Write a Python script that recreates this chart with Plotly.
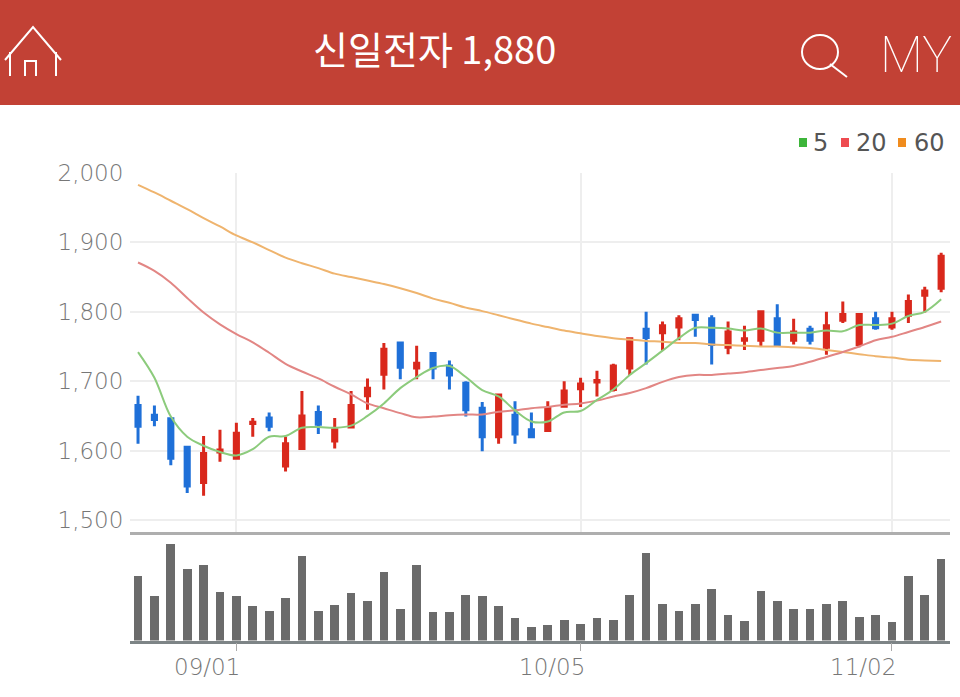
import plotly.graph_objects as go

idx = list(range(50))
opens = [1665,1651,1646,1605,1554,1598,1589,1639,1647,1578,1603,1655,1614,1634,1679,1710,1755,1719,1740,1722,1697,1661,1620,1651,1630,1629,1664,1689,1699,1688,1719,1775,1770,1778,1795,1790,1749,1759,1759,1790,1759,1775,1749,1788,1753,1790,1778,1795,1824,1834]
highs = [1679,1665,1648,1605,1621,1630,1640,1647,1655,1620,1686,1665,1647,1686,1704,1755,1755,1751,1740,1730,1700,1670,1680,1671,1655,1671,1700,1705,1715,1725,1761,1800,1786,1795,1795,1795,1786,1780,1800,1811,1790,1780,1800,1815,1796,1800,1800,1825,1836,1885]
lows = [1610,1635,1579,1539,1535,1584,1589,1620,1628,1570,1603,1624,1603,1634,1659,1688,1703,1703,1703,1688,1649,1599,1610,1610,1620,1629,1663,1663,1678,1685,1709,1724,1744,1759,1764,1724,1739,1745,1750,1753,1753,1753,1738,1784,1749,1774,1774,1784,1799,1828]
closes = [1635,1645,1589,1549,1596,1601,1625,1641,1635,1610,1650,1638,1630,1665,1690,1746,1720,1726,1719,1709,1659,1620,1680,1624,1620,1661,1686,1696,1701,1722,1761,1763,1780,1790,1789,1753,1771,1761,1800,1753,1771,1759,1780,1796,1796,1777,1790,1815,1830,1880]
ma5 = [1742,1705,1649,1620,1607,1598,1593,1602,1620,1621,1633,1634,1633,1636,1650,1668,1690,1706,1719,1722,1706,1687,1678,1658,1642,1642,1655,1657,1673,1688,1709,1726,1744,1762,1777,1777,1776,1773,1776,1770,1770,1770,1773,1772,1781,1781,1783,1794,1800,1818]
ma20 = [1871,1859,1842,1820,1799,1782,1768,1756,1741,1725,1714,1704,1692,1681,1668,1661,1654,1648,1649,1651,1652,1652,1656,1658,1661,1663,1666,1668,1672,1678,1683,1690,1699,1706,1709,1709,1711,1713,1716,1719,1722,1728,1735,1742,1750,1759,1764,1771,1778,1786]
ma60 = [1983,1972,1960,1948,1935,1923,1910,1900,1889,1878,1870,1863,1855,1850,1845,1840,1834,1827,1819,1813,1806,1801,1795,1789,1783,1778,1773,1769,1765,1762,1760,1758,1757,1755,1755,1753,1752,1751,1750,1750,1749,1748,1745,1742,1739,1736,1734,1731,1730,1729]
volumes = [194,133,289,216,228,146,133,103,90,129,254,90,107,142,120,207,94,228,86,86,137,133,103,68,42,46,63,50,68,63,137,263,111,90,111,155,77,59,150,120,94,94,111,120,72,77,55,194,137,246]
tick_pos = [6, 27, 46]
tick_text = ["09/01", "10/05", "11/02"]
price_ticks = [1500, 1600, 1700, 1800, 1900, 2000]
price_text = ["1,500", "1,600", "1,700", "1,800", "1,900", "2,000"]
ma_names = ["5", "20", "60"]
title_text = "신일전자 1,880"

W, H = 960, 697
GREEN, RED, ORANGE = "#8ccb7c", "#e28684", "#efb46e"
UP, DOWN = "#d9281c", "#1f70d8"
AXFONT = "DejaVu Sans Light, DejaVu Sans"
AXCOL = "#777777"
def px(v): return v / W
def py(v): return 1 - v / H

fig = go.Figure()
fig.add_trace(go.Candlestick(
    x=idx, open=opens, high=highs, low=lows, close=closes, whiskerwidth=0,
    increasing=dict(line=dict(color=UP, width=3), fillcolor=UP),
    decreasing=dict(line=dict(color=DOWN, width=3), fillcolor=DOWN),
    showlegend=False, xaxis="x", yaxis="y", hoverinfo="skip"))
for vals, col, nm in zip([ma60, ma20, ma5], [ORANGE, RED, GREEN], ["60", "20", "5"]):
    fig.add_trace(go.Scatter(x=idx, y=vals, mode="lines", name=nm,
                             line=dict(color=col, width=2, shape="spline", smoothing=1.0),
                             showlegend=False, xaxis="x", yaxis="y"))
fig.add_trace(go.Bar(x=idx, y=volumes, marker=dict(color="#6b6b6b", line=dict(width=0)),
                     width=0.53, showlegend=False, xaxis="x2", yaxis="y2"))

x_dom = [px(130), px(950)]
x_rng = [-0.49, 49.54]
fig.update_layout(
    width=W, height=H, margin=dict(l=0, r=0, t=0, b=0, autoexpand=False), autosize=False,
    paper_bgcolor="white", plot_bgcolor="white", boxgap=0.64, bargap=0,
    font=dict(family="Noto Sans, Noto Sans CJK KR", color=AXCOL),
    xaxis=dict(domain=x_dom, range=x_rng, anchor="y", tickvals=tick_pos, ticktext=[""]*3,
               showgrid=True, gridcolor="#eeeeee", gridwidth=1.5, ticks="", automargin=False,
               showline=True, linecolor="#aeaeae", linewidth=3, zeroline=False,
               rangeslider=dict(visible=False), fixedrange=True),
    yaxis=dict(domain=[py(532.3), py(173)], range=[1482.3, 2000], anchor="x", tickvals=price_ticks,
               ticktext=price_text, showgrid=True, gridcolor="#eeeeee", gridwidth=1.5, automargin=False,
               tickfont=dict(size=23, color=AXCOL, family=AXFONT),
               ticks="outside", ticklen=1, tickcolor="rgba(0,0,0,0)", zeroline=False, fixedrange=True),
    xaxis2=dict(domain=x_dom, range=x_rng, anchor="y2", tickvals=tick_pos, ticktext=[""]*3,
                showgrid=False, ticks="outside", ticklen=8, tickcolor="#aaaaaa", tickwidth=1, automargin=False,
                showline=True, linecolor="#7d8486", linewidth=2.5, zeroline=False, fixedrange=True),
    yaxis2=dict(domain=[py(640.5), py(533)], range=[0, 322.5], anchor="x2", showticklabels=False, automargin=False,
                showgrid=False, zeroline=False, ticks="", fixedrange=True),
)

shapes = [dict(type="rect", xref="paper", yref="paper", x0=0, x1=1, y0=py(105), y1=1,
               fillcolor="#c24135", line=dict(width=0), layer="below")]
wl = dict(color="white", width=2)
def pth(pts):
    return "M " + " L ".join(f"{px(a):.5f},{py(b):.5f}" for a, b in pts)
for pts in ([(5, 60), (33, 27), (61, 60)],
            [(10, 52), (10, 76)], [(56, 52), (56, 76)],
            [(25, 76), (25, 61), (36, 61), (36, 76)],
            [(830, 64), (847, 77)]):
    shapes.append(dict(type="path", xref="paper", yref="paper", path=pth(pts), line=wl))
shapes.append(dict(type="circle", xref="paper", yref="paper", x0=px(802), x1=px(838),
                   y0=py(69), y1=py(35), line=wl))
for (a, b), col in zip([(799, 807), (841, 849), (898, 906)], ["#3db53a", "#ee4b50", "#f08c1e"]):
    shapes.append(dict(type="rect", xref="paper", yref="paper", x0=px(a), x1=px(b),
                       y0=py(147), y1=py(138), fillcolor=col, line=dict(width=0)))
fig.update_layout(shapes=shapes)

ann = [dict(text=title_text, xref="paper", yref="paper", x=px(434.5), y=py(48), yanchor="middle", showarrow=False,
            font=dict(size=38, color="white", family="Noto Sans CJK KR")),
       dict(text="MY", xref="paper", yref="paper", x=px(878), y=py(55), xanchor="left", yanchor="middle", showarrow=False,
            font=dict(size=50, color="white", family="Roboto", weight=100))]
for name, x0 in zip(ma_names, [811, 854, 912]):
    ann.append(dict(text=name, xref="paper", yref="paper", x=px(x0), y=py(143), xanchor="left", yanchor="middle",
                    showarrow=False, font=dict(size=24, color="#555555", family="DejaVu Sans")))
for p, t in zip(tick_pos, tick_text):
    ann.append(dict(text=t, xref="x2", yref="paper", x=p, y=py(667), xanchor="right", yanchor="middle", xshift=6,
                    showarrow=False, font=dict(size=23, color=AXCOL, family=AXFONT)))
fig.update_layout(annotations=ann)

fig.write_html("out.html", config=dict(displayModeBar=False),
               post_script="document.body.style.margin='0';document.documentElement.style.overflow='hidden';")
